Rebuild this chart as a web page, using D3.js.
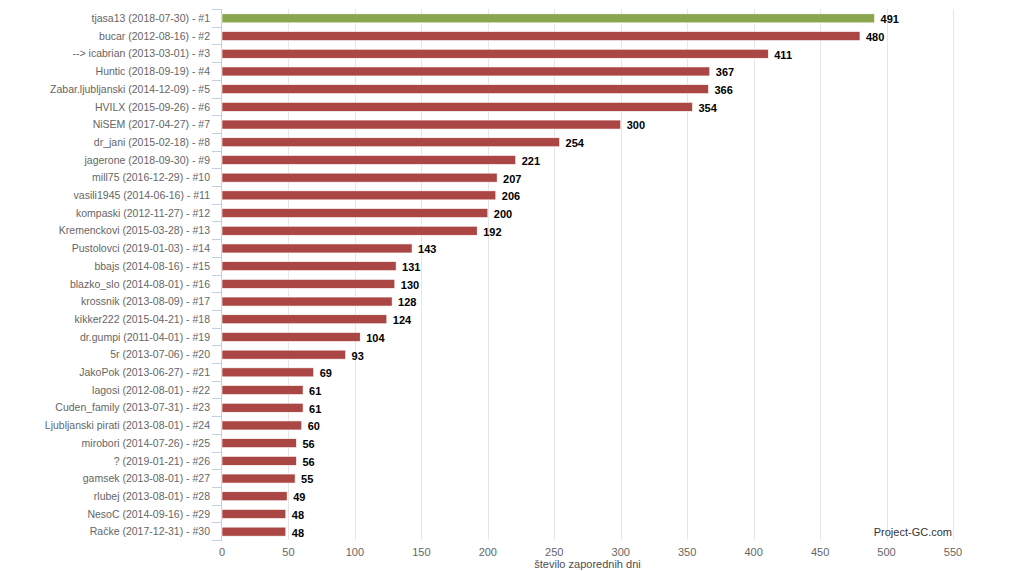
<!DOCTYPE html>
<html>
<head>
<meta charset="utf-8">
<script src="https://cdn.jsdelivr.net/npm/d3@7"></script>
<style>
  body { margin: 0; background: #fff; }
  svg { display: block; font-family: "Liberation Sans", Arial, sans-serif; }
</style>
</head>
<body>
<svg id="chart" width="1024" height="571"></svg>
<script>
// cachers, date of the streak, number of consecutive days
var names = ["tjasa13", "bucar", "--> icabrian", "Huntic", "Zabar.ljubljanski", "HVILX", "NiSEM",
  "dr_jani", "jagerone", "mill75", "vasili1945", "kompaski", "Kremenckovi", "Pustolovci", "bbajs",
  "blazko_slo", "krossnik", "kikker222", "dr.gumpi", "5r", "JakoPok", "lagosi", "Cuden_family",
  "Ljubljanski pirati", "mirobori", "?", "gamsek", "rlubej", "NesoC", "Račke"];
var dates = ["2018-07-30", "2012-08-16", "2013-03-01", "2018-09-19", "2014-12-09", "2015-09-26", "2017-04-27",
  "2015-02-18", "2018-09-30", "2016-12-29", "2014-06-16", "2012-11-27", "2015-03-28", "2019-01-03", "2014-08-16",
  "2014-08-01", "2013-08-09", "2015-04-21", "2011-04-01", "2013-07-06", "2013-06-27", "2012-08-01", "2013-07-31",
  "2013-08-01", "2014-07-26", "2019-01-21", "2013-08-01", "2013-08-01", "2014-09-16", "2017-12-31"];
var days = [491, 480, 411, 367, 366, 354, 300, 254, 221, 207, 206, 200, 192, 143, 131,
  130, 128, 124, 104, 93, 69, 61, 61, 60, 56, 56, 55, 49, 48, 48];
var xTicks = [0, 50, 100, 150, 200, 250, 300, 350, 400, 450, 500, 550];
var axisTitle = "število zaporednih dni";
var credit = "Project-GC.com";

var margin = {left: 222, right: 71, top: 9, bottom: 31},
    width = 1024,
    height = 571;

var data = days.map(function(d, i) {
  return {label: names[i] + " (" + dates[i] + ") - #" + (i + 1), value: d};
});

var svg = d3.select("#chart");

var x = d3.scaleLinear()
  .domain([0, 550])
  .range([margin.left, width - margin.right]);

var y = d3.scaleBand()
  .domain(data.map(function(d) { return d.label; }))
  .range([margin.top, height - margin.bottom]);

// grid lines
svg.append("g").selectAll("line")
  .data(xTicks.slice(1))
  .enter().append("line")
  .attr("x1", function(d) { return Math.round(x(d)) + 0.5; })
  .attr("x2", function(d) { return Math.round(x(d)) + 0.5; })
  .attr("y1", margin.top)
  .attr("y2", height - margin.bottom)
  .attr("stroke", "#e6e6e6")
  .attr("stroke-width", 1);

// x tick labels
svg.append("g").selectAll("text")
  .data(xTicks)
  .enter().append("text")
  .attr("x", function(d) { return x(d); })
  .attr("y", 556)
  .attr("text-anchor", "middle")
  .attr("font-size", "11px")
  .attr("fill", "#666")
  .text(function(d) { return d; });

svg.append("text")
  .attr("x", (x.range()[0] + x.range()[1]) / 2)
  .attr("y", 568)
  .attr("text-anchor", "middle")
  .attr("font-size", "11px")
  .attr("fill", "#4d4d4d")
  .text(axisTitle);

// category axis
var yAxis = svg.append("g");
yAxis.append("line")
  .attr("x1", margin.left - 0.5).attr("x2", margin.left - 0.5)
  .attr("y1", margin.top).attr("y2", height - margin.bottom)
  .attr("stroke", "#C0D0E0");

var bounds = d3.range(data.length + 1).map(function(i) {
  return margin.top + i * y.step();
});
yAxis.selectAll("line.tick")
  .data(bounds)
  .enter().append("line")
  .attr("class", "tick")
  .attr("x1", margin.left - 10).attr("x2", margin.left)
  .attr("y1", function(d) { return Math.round(d) + 0.5; })
  .attr("y2", function(d) { return Math.round(d) + 0.5; })
  .attr("stroke", "#C0D0E0");

yAxis.selectAll("text")
  .data(data)
  .enter().append("text")
  .attr("x", margin.left - 12)
  .attr("y", function(d) { return y(d.label) + y.bandwidth() / 2 + 0.5; })
  .attr("dy", "0.35em")
  .attr("text-anchor", "end")
  .attr("font-size", "10.5px")
  .attr("fill", "#666")
  .text(function(d) { return d.label; });

// bars
var barH = 9;
svg.append("g").selectAll("rect")
  .data(data)
  .enter().append("rect")
  .attr("x", x(0))
  .attr("y", function(d) { return y(d.label) + y.bandwidth() / 2 - barH / 2 + 0.5; })
  .attr("width", function(d) { return x(d.value) - x(0); })
  .attr("height", barH)
  .attr("fill", function(d, i) { return i === 0 ? "#89A54E" : "#AA4643"; })
  .attr("stroke", "#fff")
  .attr("stroke-width", 0.6);

// value labels
svg.append("g").selectAll("text")
  .data(data)
  .enter().append("text")
  .attr("x", function(d) { return x(d.value) + 6; })
  .attr("y", function(d) { return y(d.label) + y.bandwidth() / 2 + 1.5; })
  .attr("dy", "0.35em")
  .attr("font-size", "11px")
  .attr("font-weight", "bold")
  .attr("fill", "#000")
  .text(function(d) { return d.value; });

svg.append("text")
  .attr("x", 952)
  .attr("y", 536)
  .attr("text-anchor", "end")
  .attr("font-size", "11px")
  .attr("fill", "#333")
  .text(credit);
</script>
</body>
</html>
